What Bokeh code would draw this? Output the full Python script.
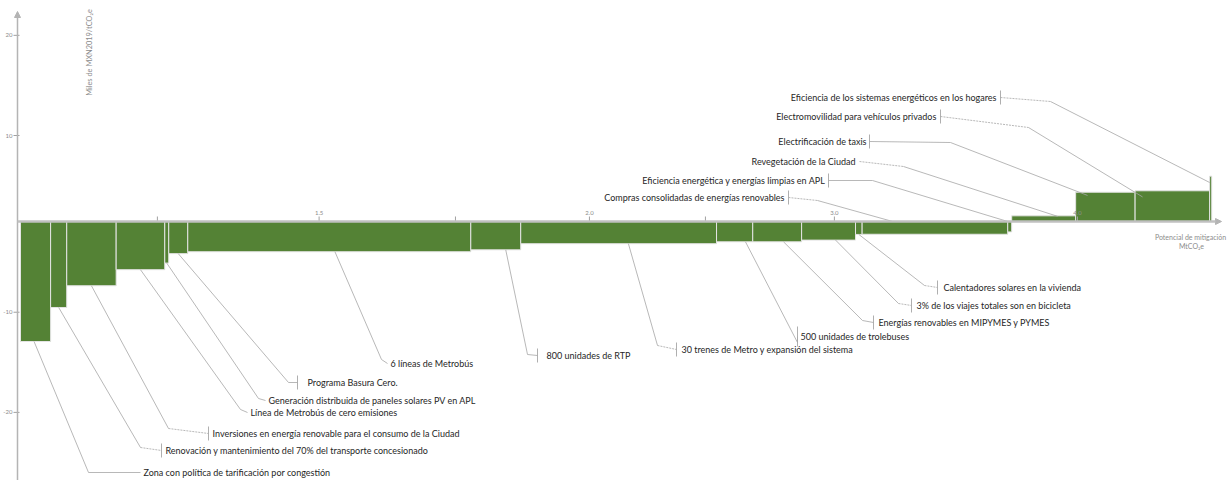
import numpy as np
from bokeh.plotting import figure
from bokeh.models import Range1d, Arrow, NormalHead
from bokeh.core.properties import value
from bokeh.embed import file_html
from bokeh.resources import INLINE

# ---------------- data ----------------
measures = [
    "Zona con política de tarificación por congestión",
    "Renovación y mantenimiento del 70% del transporte concesionado",
    "Inversiones en energía renovable para el consumo de la Ciudad",
    "Línea de Metrobús de cero emisiones",
    "Generación distribuida de paneles solares PV en APL",
    "Programa Basura Cero.",
    "6 líneas de Metrobús",
    "800 unidades de RTP",
    "30 trenes de Metro y expansión del sistema",
    "500 unidades de trolebuses",
    "Energías renovables en MIPYMES y PYMES",
    "3% de los viajes totales son en bicicleta",
    "Calentadores solares en la vivienda",
    "Compras consolidadas de energías renovables",
    "Eficiencia energética y energías limpias en APL",
    "Revegetación de la Ciudad",
    "Electrificación de taxis",
    "Electromovilidad para vehículos privados",
    "Eficiencia de los sistemas energéticos en los hogares",
]
# mitigation potential (MtCO2e) = bar width
potential = [0.114, 0.061, 0.187, 0.184, 0.015, 0.072, 1.071, 0.189, 0.741, 0.137,
             0.185, 0.204, 0.025, 0.551, 0.015, 0.242, 0.225, 0.282, 0.008]
# abatement cost (miles de MXN2019 / tCO2e) = bar height
cost = [-12.7, -9.1, -6.8, -5.1, -4.4, -3.4, -3.2, -3.0, -2.35, -2.15,
        -2.15, -1.97, -1.37, -1.35, -1.1, 0.6, 3.1, 3.25, 4.8]

x_tick_pos = [0.518, 1.13, 1.646, 2.153, 2.592, 3.08, 4.0]
x_tick_labels = ["", "1.5", "", "2.0", "", "3.0", "4.0"]
y_tick_pos = [19.7, 9.1, -9.6, -20.2]
y_tick_labels = ["20", "10", "-10", "-20"]

x_title = ["Potencial de mitigación", "MtCO₂e"]
y_title = "Miles de MXN2019/tCO₂e"

# ---------------- layout (page pixels) ----------------
W, H = 1231, 480
PX0, SX = 20.0, 264.25     # page x of x=0, px per MtCO2e
PY0, SY = 221.0, 9.45      # page y of y=0, px per unit


def fx(px):
    return (px - PX0) / SX


def fy(py):
    return (PY0 - py) / SY


# bottom labels: text_x, text_y, elbow_x, elbow_y, tick_x, tick_half, dashed, frac_along_bar
bottom_layout = [
    (143, 472, 88, 472, None, 7, False, 0.45),
    (165, 450, 140, 447, 161, 7, True, 0.5),
    (212, 433, 168, 428, 208, 7, True, 0.5),
    (250, 412, 240, 409, None, 7, False, 0.5),
    (268, 400, 258, 398, None, 7, False, 0.5),
    (307, 382, 288, 382, 297, 7, False, 0.5),
    (390, 363, 381, 359, None, 7, False, 0.52),
    (546, 355, 527, 354, 537, 7, False, 0.7),
    (681, 349, 657, 345, 676, 7, True, 0.55),
    (800, 336, 797, 342, 797, 10, False, 0.8),
    (878, 322, 862, 320, 873, 7, False, 0.63),
    (916, 305, 898, 303, 911, 7, True, 0.63),
    (943, 287, 924, 285, 937, 7, True, 0.5),
]
# top labels: text_end_x, text_y, tick_x, elbow_x, elbow_y, dashed, frac_x, frac_y
top_layout = [
    (784, 197, 788, 817, 200, True, 0.21, 0.0),
    (825, 180, 828, 872, 180, False, 0.0, 0.0),
    (855, 161, None, 903, 166, True, 0.72, 0.9),
    (866, 141, 869, 950, 142, False, 0.2, 0.89),
    (936, 116, 940, 1028, 127, True, 0.1, 0.8),
    (996, 97, 1000, 1050, 101, True, 0.0, 0.86),
]

GREEN = "#548235"
LEADER = "#a6a6a6"
AXIS = "#b4b4b4"
FONT = "Lato"

p = figure(width=W, height=H,
           x_range=Range1d(fx(0), fx(W)), y_range=Range1d(fy(H), fy(0)),
           output_backend="svg", toolbar_location=None, min_border=0,
           x_axis_type=None, y_axis_type=None)
p.outline_line_color = None
p.background_fill_color = "white"

# bars
right = np.cumsum(potential)
left = right - np.array(potential)
vals = np.array(cost)
p.quad(left=left, right=right, top=np.maximum(vals, 0), bottom=np.minimum(vals, 0),
       fill_color=GREEN, line_color="#e4e4e4", line_width=1)

# axes
p.add_layout(Arrow(end=NormalHead(size=6, fill_color=AXIS, line_color=AXIS),
                   x_start=fx(17), y_start=fy(480), x_end=fx(17), y_end=fy(11),
                   line_color=AXIS, line_width=1.5))
p.add_layout(Arrow(end=NormalHead(size=6, fill_color=AXIS, line_color=AXIS),
                   x_start=fx(17), y_start=0, x_end=fx(1221), y_end=0,
                   line_color="#c0c0c0", line_width=2.5))
# x ticks
p.segment(x0=x_tick_pos, y0=[0] * len(x_tick_pos), x1=x_tick_pos,
          y1=[fy(216)] * len(x_tick_pos), line_color="#a0a0a0", line_width=1)
p.text(x=x_tick_pos, y=[fy(212)] * len(x_tick_pos), text=x_tick_labels,
       text_align="center", text_baseline="middle", text_font=value(FONT),
       text_font_size="6px", text_color="#8c8c8c")
# y ticks
p.segment(x0=[fx(13)] * 4, y0=y_tick_pos, x1=[fx(19)] * 4, y1=y_tick_pos,
          line_color="#a0a0a0", line_width=1)
p.text(x=[fx(12)] * 4, y=y_tick_pos, text=y_tick_labels, text_align="right",
       text_baseline="middle", text_font=value(FONT), text_font_size="6px",
       text_color="#8c8c8c")

# axis titles
p.text(x=[fx(1190), fx(1191)], y=[fy(236), fy(245)], text=x_title,
       text_align="center", text_baseline="middle", text_font=value(FONT),
       text_font_size="7px", text_color="#8c8c8c")
p.text(x=[fx(89)], y=[fy(52)], text=[y_title], angle=np.pi / 2,
       text_align="center", text_baseline="middle", text_font=value(FONT),
       text_font_size="7.4px", text_color="#8c8c8c")

# leaders and labels
solid_xs, solid_ys, dash_xs, dash_ys = [], [], [], []
tick_x0, tick_y0, tick_y1 = [], [], []
lab_x, lab_y, lab_t, lab_al = [], [], [], []

for i, (tx, ty, ex, ey, tk, th, dashed, fr) in enumerate(bottom_layout):
    bx = left[i] + fr * potential[i]
    by = vals[i]
    solid_xs.append([bx, fx(ex)])
    solid_ys.append([by, fy(ey)])
    end = tk if tk is not None else tx - 3
    seg_x, seg_y = [fx(ex), fx(end)], [fy(ey), fy(ty)]
    (dash_xs if dashed else solid_xs).append(seg_x)
    (dash_ys if dashed else solid_ys).append(seg_y)
    if tk is not None:
        tick_x0.append(fx(tk)); tick_y0.append(fy(ty - th)); tick_y1.append(fy(ty + th))
    lab_x.append(fx(tx)); lab_y.append(fy(ty)); lab_t.append(measures[i]); lab_al.append("left")

n0 = len(bottom_layout)
for k, (tx, ty, tk, ex, ey, dashed, frx, fry) in enumerate(top_layout):
    i = n0 + k
    bx = left[i] + frx * potential[i]
    by = vals[i] * fry
    start = tk if tk is not None else tx + 4
    seg_x, seg_y = [fx(start), fx(ex)], [fy(ty), fy(ey)]
    (dash_xs if dashed else solid_xs).append(seg_x)
    (dash_ys if dashed else solid_ys).append(seg_y)
    solid_xs.append([fx(ex), bx])
    solid_ys.append([fy(ey), by])
    if tk is not None:
        tick_x0.append(fx(tk)); tick_y0.append(fy(ty - 7)); tick_y1.append(fy(ty + 7))
    lab_x.append(fx(tx)); lab_y.append(fy(ty)); lab_t.append(measures[i]); lab_al.append("right")

p.multi_line(xs=solid_xs, ys=solid_ys, line_color=LEADER, line_width=0.8)
p.multi_line(xs=dash_xs, ys=dash_ys, line_color=LEADER, line_width=0.8, line_dash="2 1")
p.segment(x0=tick_x0, y0=tick_y0, x1=tick_x0, y1=tick_y1, line_color=LEADER, line_width=0.9)
p.text(x=lab_x, y=lab_y, text=lab_t, text_align=lab_al, text_baseline="middle",
       text_font=value(FONT), text_font_size="9px", text_color="#262626")

open("out.html", "w").write(file_html(p, INLINE))
